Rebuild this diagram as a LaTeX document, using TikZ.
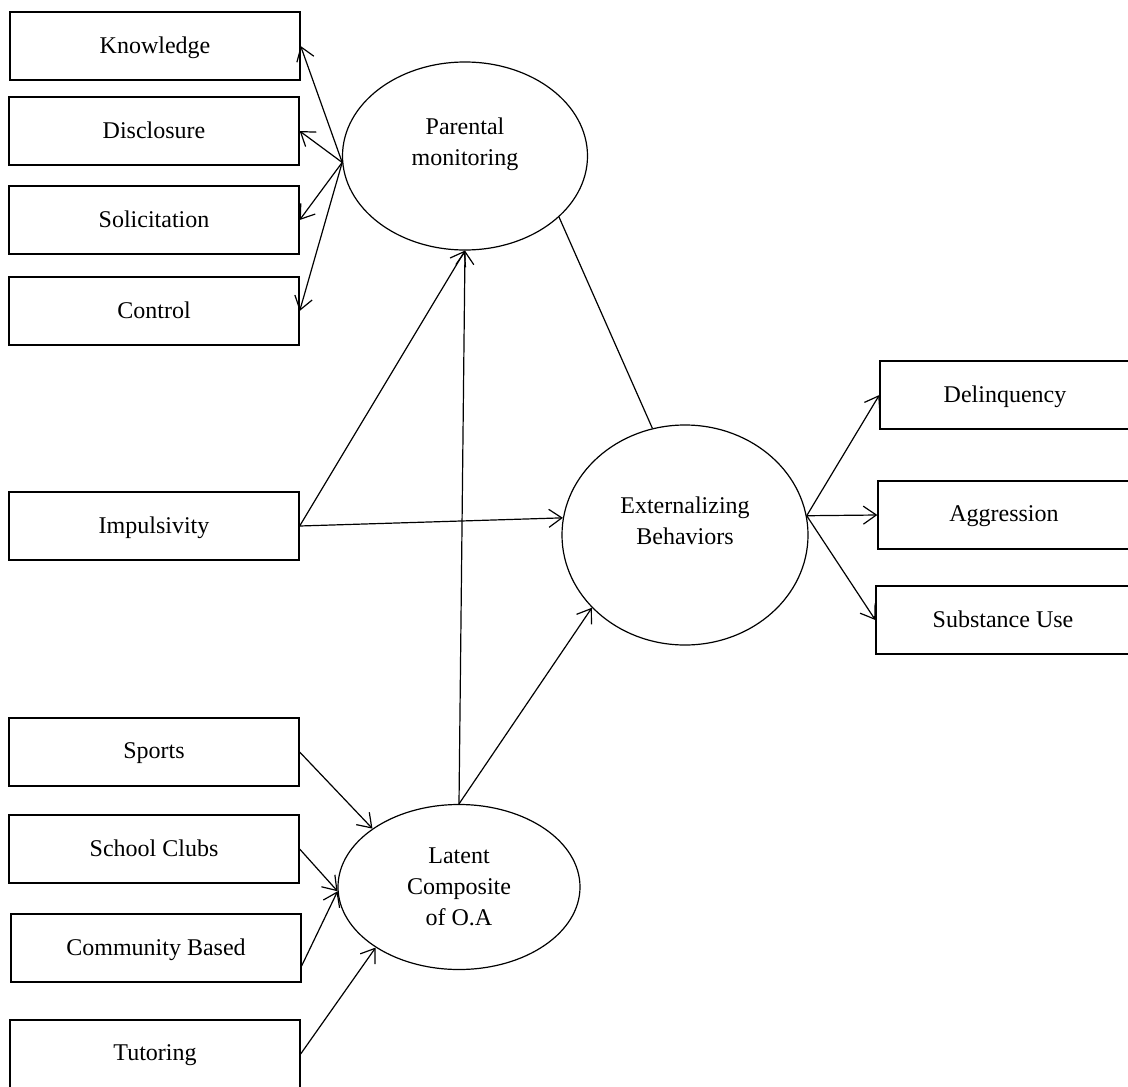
\documentclass[tikz,border=0pt]{standalone}
\usepackage{fontspec}
\setmainfont{Liberation Serif}
\usetikzlibrary{arrows.meta,shapes.geometric}
\begin{document}
\begin{tikzpicture}[x=1pt,y=-1pt,
  every node/.style={font=\fontsize{24}{31}\selectfont},
  obs/.style={draw,line width=1.3pt,minimum width=290pt,minimum height=68pt,inner sep=0pt,text depth=2pt},
  lat/.style={draw,ellipse,line width=1.2pt,inner sep=0pt,align=center},
  link/.style={line width=1.2pt},
  arr/.style={link,-{Straight Barb[length=13pt,width=18pt,line width=1.2pt]}}]
\useasboundingbox (0,0) rectangle (1128,1087);
% indicators of parental monitoring
\node[obs] (know) at (155,46)  {Knowledge};
\node[obs] (disc) at (154,131) {Disclosure};
\node[obs] (soli) at (154,220) {Solicitation};
\node[obs] (ctrl) at (154,311) {Control};
% predictor
\node[obs] (imp)  at (154,526) {Impulsivity};
% activity indicators
\node[obs] (spo)  at (154,752) {Sports};
\node[obs] (scl)  at (154,849) {School Clubs};
\node[obs] (cbs)  at (156,948) {Community Based};
\node[obs] (tut)  at (155,1054) {Tutoring};
% outcomes
\node[obs,minimum width=250pt] (del) at (1005,395) {Delinquency};
\node[obs,minimum width=252pt] (agg) at (1004,515) {Aggression};
\node[obs,minimum width=254pt] (sub) at (1003,620) {Substance Use};
% latent constructs (the two upper labels sit above the centre)
\node[lat,minimum width=245pt,minimum height=188pt] (pm)  at (465,156) {Parental\\monitoring\\[-2pt]\mbox{}};
\node[lat,minimum width=246pt,minimum height=220pt] (ext) at (685,535) {Externalizing\\Behaviors\\[-2pt]\mbox{}};
\node[lat,minimum width=242pt,minimum height=165pt] (lc)  at (459,887) {Latent\\Composite\\of O.A};
% measurement paths
\draw[arr] (pm.183) -- (know.east);
\draw[arr] (pm.183) -- (disc.east);
\draw[arr] (pm.183) -- (soli.east);
\draw[arr] (pm.183) -- (ctrl.east);
\draw[arr] (ext.9) -- (del.west);
\draw[arr] (ext.9) -- (agg.west);
\draw[arr] (ext.9) -- (sub.west);
\draw[arr] (spo.east) -- (lc.146);
\draw[arr] (scl.east) -- (lc.182);
\draw[arr] (cbs.-7) -- (lc.182);
\draw[arr] (tut.east) -- (lc.216);
% structural paths
\draw[arr] (imp.east) -- (pm.south);
\draw[arr] (imp.east) -- (ext.172);
\draw[arr] (lc.north) -- (pm.south);
\draw[arr] (lc.north) -- (ext.218);
\draw[link] (pm.-33) -- (ext.107);
\end{tikzpicture}
\end{document}
